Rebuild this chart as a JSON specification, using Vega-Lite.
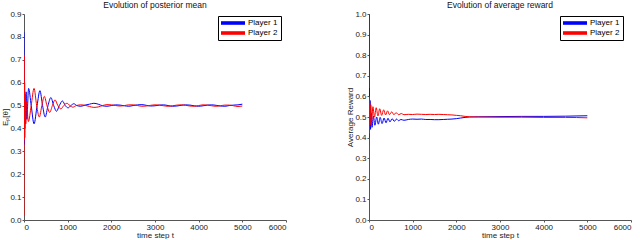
{
  "$schema": "https://vega.github.io/schema/vega-lite/v6.json",
  "padding": {"left": 1, "top": 0, "right": 0, "bottom": 0},
  "spacing": 59,
  "config": {
    "view": {"stroke": null},
    "font": "Liberation Sans",
    "title": {"fontSize": 8.5, "fontWeight": "normal", "color": "#111", "offset": 1, "anchor": "middle"},
    "axis": {"labelFontSize": 8, "titleFontSize": 8, "titleFontWeight": "normal", "tickSize": 2, "labelColor": "#222", "titleColor": "#222", "domainColor": "#555", "tickColor": "#555", "grid": false, "labelPadding": 1, "titlePadding": 0},
    "legend": {"strokeColor": "#000", "fillColor": "#fff", "padding": 3, "labelFontSize": 8, "labelColor": "#000", "rowPadding": 2, "symbolType": "M-1,-0.45H5V0.45H-1Z", "symbolSize": 64, "symbolStrokeWidth": 0, "labelOffset": 19}
  },
  "datasets": {
    "mean": [
      {"player": "Player 1", "t": 0, "v": 0.82}, {"player": "Player 1", "t": 4, "v": 0.33}, {"player": "Player 1", "t": 10, "v": 0.6}, {"player": "Player 1", "t": 16, "v": 0.36}, {"player": "Player 1", "t": 24, "v": 0.55}, {"player": "Player 1", "t": 34, "v": 0.42}, {"player": "Player 1", "t": 48, "v": 0.56}, {"player": "Player 1", "t": 65, "v": 0.44}, {"player": "Player 1", "t": 105, "v": 0.575}, {"player": "Player 1", "t": 165, "v": 0.5}, {"player": "Player 1", "t": 230, "v": 0.42}, {"player": "Player 1", "t": 300, "v": 0.5}, {"player": "Player 1", "t": 365, "v": 0.565}, {"player": "Player 1", "t": 425, "v": 0.5}, {"player": "Player 1", "t": 485, "v": 0.45}, {"player": "Player 1", "t": 550, "v": 0.5}, {"player": "Player 1", "t": 615, "v": 0.535}, {"player": "Player 1", "t": 680, "v": 0.5}, {"player": "Player 1", "t": 745, "v": 0.475}, {"player": "Player 1", "t": 810, "v": 0.5}, {"player": "Player 1", "t": 880, "v": 0.52}, {"player": "Player 1", "t": 945, "v": 0.5}, {"player": "Player 1", "t": 1010, "v": 0.49}, {"player": "Player 1", "t": 1075, "v": 0.5}, {"player": "Player 1", "t": 1140, "v": 0.508}, {"player": "Player 1", "t": 1210, "v": 0.5},
      {"player": "Player 1", "t": 1300, "v": 0.497}, {"player": "Player 1", "t": 1400, "v": 0.502}, {"player": "Player 1", "t": 1500, "v": 0.506}, {"player": "Player 1", "t": 1600, "v": 0.51}, {"player": "Player 1", "t": 1700, "v": 0.506}, {"player": "Player 1", "t": 1800, "v": 0.499}, {"player": "Player 1", "t": 1900, "v": 0.497}, {"player": "Player 1", "t": 2000, "v": 0.5}, {"player": "Player 1", "t": 2100, "v": 0.503}, {"player": "Player 1", "t": 2200, "v": 0.502}, {"player": "Player 1", "t": 2300, "v": 0.499}, {"player": "Player 1", "t": 2400, "v": 0.497}, {"player": "Player 1", "t": 2500, "v": 0.5}, {"player": "Player 1", "t": 2600, "v": 0.503}, {"player": "Player 1", "t": 2700, "v": 0.504}, {"player": "Player 1", "t": 2800, "v": 0.501}, {"player": "Player 1", "t": 2900, "v": 0.498}, {"player": "Player 1", "t": 3000, "v": 0.499}, {"player": "Player 1", "t": 3100, "v": 0.502}, {"player": "Player 1", "t": 3200, "v": 0.503}, {"player": "Player 1", "t": 3300, "v": 0.5}, {"player": "Player 1", "t": 3400, "v": 0.497}, {"player": "Player 1", "t": 3500, "v": 0.498}, {"player": "Player 1", "t": 3600, "v": 0.501}, {"player": "Player 1", "t": 3700, "v": 0.503}, {"player": "Player 1", "t": 3800, "v": 0.502}, {"player": "Player 1", "t": 3900, "v": 0.499}, {"player": "Player 1", "t": 4000, "v": 0.497}, {"player": "Player 1", "t": 4100, "v": 0.499}, {"player": "Player 1", "t": 4200, "v": 0.502}, {"player": "Player 1", "t": 4300, "v": 0.503}, {"player": "Player 1", "t": 4400, "v": 0.501}, {"player": "Player 1", "t": 4500, "v": 0.498}, {"player": "Player 1", "t": 4600, "v": 0.497}, {"player": "Player 1", "t": 4700, "v": 0.5}, {"player": "Player 1", "t": 4800, "v": 0.502}, {"player": "Player 1", "t": 4900, "v": 0.503}, {"player": "Player 1", "t": 5000, "v": 0.506},
      {"player": "Player 2", "t": 0, "v": 0.02}, {"player": "Player 2", "t": 3, "v": 0.72}, {"player": "Player 2", "t": 8, "v": 0.35}, {"player": "Player 2", "t": 14, "v": 0.6}, {"player": "Player 2", "t": 22, "v": 0.4}, {"player": "Player 2", "t": 30, "v": 0.55}, {"player": "Player 2", "t": 40, "v": 0.42}, {"player": "Player 2", "t": 55, "v": 0.52}, {"player": "Player 2", "t": 100, "v": 0.43}, {"player": "Player 2", "t": 165, "v": 0.5}, {"player": "Player 2", "t": 230, "v": 0.575}, {"player": "Player 2", "t": 290, "v": 0.5}, {"player": "Player 2", "t": 350, "v": 0.45}, {"player": "Player 2", "t": 410, "v": 0.5}, {"player": "Player 2", "t": 465, "v": 0.54}, {"player": "Player 2", "t": 525, "v": 0.5}, {"player": "Player 2", "t": 590, "v": 0.47}, {"player": "Player 2", "t": 650, "v": 0.5}, {"player": "Player 2", "t": 710, "v": 0.525}, {"player": "Player 2", "t": 775, "v": 0.5}, {"player": "Player 2", "t": 845, "v": 0.485}, {"player": "Player 2", "t": 910, "v": 0.5}, {"player": "Player 2", "t": 985, "v": 0.51}, {"player": "Player 2", "t": 1050, "v": 0.5}, {"player": "Player 2", "t": 1120, "v": 0.493}, {"player": "Player 2", "t": 1200, "v": 0.5},
      {"player": "Player 2", "t": 1300, "v": 0.503}, {"player": "Player 2", "t": 1400, "v": 0.501}, {"player": "Player 2", "t": 1500, "v": 0.496}, {"player": "Player 2", "t": 1600, "v": 0.492}, {"player": "Player 2", "t": 1700, "v": 0.494}, {"player": "Player 2", "t": 1800, "v": 0.5}, {"player": "Player 2", "t": 1900, "v": 0.504}, {"player": "Player 2", "t": 2000, "v": 0.503}, {"player": "Player 2", "t": 2100, "v": 0.5}, {"player": "Player 2", "t": 2200, "v": 0.498}, {"player": "Player 2", "t": 2300, "v": 0.5}, {"player": "Player 2", "t": 2400, "v": 0.503}, {"player": "Player 2", "t": 2500, "v": 0.503}, {"player": "Player 2", "t": 2600, "v": 0.5}, {"player": "Player 2", "t": 2700, "v": 0.497}, {"player": "Player 2", "t": 2800, "v": 0.498}, {"player": "Player 2", "t": 2900, "v": 0.501}, {"player": "Player 2", "t": 3000, "v": 0.503}, {"player": "Player 2", "t": 3100, "v": 0.502}, {"player": "Player 2", "t": 3200, "v": 0.499}, {"player": "Player 2", "t": 3300, "v": 0.497}, {"player": "Player 2", "t": 3400, "v": 0.499}, {"player": "Player 2", "t": 3500, "v": 0.502}, {"player": "Player 2", "t": 3600, "v": 0.503}, {"player": "Player 2", "t": 3700, "v": 0.501}, {"player": "Player 2", "t": 3800, "v": 0.498}, {"player": "Player 2", "t": 3900, "v": 0.497}, {"player": "Player 2", "t": 4000, "v": 0.5}, {"player": "Player 2", "t": 4100, "v": 0.503}, {"player": "Player 2", "t": 4200, "v": 0.502}, {"player": "Player 2", "t": 4300, "v": 0.499}, {"player": "Player 2", "t": 4400, "v": 0.497}, {"player": "Player 2", "t": 4500, "v": 0.499}, {"player": "Player 2", "t": 4600, "v": 0.502}, {"player": "Player 2", "t": 4700, "v": 0.502}, {"player": "Player 2", "t": 4800, "v": 0.499}, {"player": "Player 2", "t": 4900, "v": 0.496}, {"player": "Player 2", "t": 5000, "v": 0.498}
    ],
    "reward": [
      {"player": "Player 1", "t": 0, "v": 1.0}, {"player": "Player 1", "t": 3, "v": 0.4}, {"player": "Player 1", "t": 8, "v": 0.64}, {"player": "Player 1", "t": 15, "v": 0.45}, {"player": "Player 1", "t": 25, "v": 0.58}, {"player": "Player 1", "t": 35, "v": 0.44}, {"player": "Player 1", "t": 50, "v": 0.52}, {"player": "Player 1", "t": 70, "v": 0.45}, {"player": "Player 1", "t": 100, "v": 0.505}, {"player": "Player 1", "t": 135, "v": 0.46}, {"player": "Player 1", "t": 175, "v": 0.5}, {"player": "Player 1", "t": 215, "v": 0.465}, {"player": "Player 1", "t": 255, "v": 0.498}, {"player": "Player 1", "t": 300, "v": 0.468}, {"player": "Player 1", "t": 345, "v": 0.495}, {"player": "Player 1", "t": 390, "v": 0.472}, {"player": "Player 1", "t": 435, "v": 0.494}, {"player": "Player 1", "t": 480, "v": 0.476}, {"player": "Player 1", "t": 530, "v": 0.492}, {"player": "Player 1", "t": 580, "v": 0.479}, {"player": "Player 1", "t": 630, "v": 0.49}, {"player": "Player 1", "t": 680, "v": 0.482}, {"player": "Player 1", "t": 730, "v": 0.488}, {"player": "Player 1", "t": 800, "v": 0.484}, {"player": "Player 1", "t": 900, "v": 0.488}, {"player": "Player 1", "t": 1000, "v": 0.49}, {"player": "Player 1", "t": 1100, "v": 0.489}, {"player": "Player 1", "t": 1200, "v": 0.49}, {"player": "Player 1", "t": 1300, "v": 0.488}, {"player": "Player 1", "t": 1400, "v": 0.488}, {"player": "Player 1", "t": 1500, "v": 0.487}, {"player": "Player 1", "t": 1600, "v": 0.487}, {"player": "Player 1", "t": 1700, "v": 0.488}, {"player": "Player 1", "t": 1800, "v": 0.489}, {"player": "Player 1", "t": 1900, "v": 0.49}, {"player": "Player 1", "t": 2000, "v": 0.492}, {"player": "Player 1", "t": 2100, "v": 0.495}, {"player": "Player 1", "t": 2200, "v": 0.498}, {"player": "Player 1", "t": 2300, "v": 0.5}, {"player": "Player 1", "t": 2500, "v": 0.501}, {"player": "Player 1", "t": 3000, "v": 0.502}, {"player": "Player 1", "t": 3500, "v": 0.503}, {"player": "Player 1", "t": 4000, "v": 0.503}, {"player": "Player 1", "t": 4500, "v": 0.504}, {"player": "Player 1", "t": 5000, "v": 0.506},
      {"player": "Player 2", "t": 0, "v": 0.36}, {"player": "Player 2", "t": 3, "v": 0.6}, {"player": "Player 2", "t": 8, "v": 0.42}, {"player": "Player 2", "t": 15, "v": 0.57}, {"player": "Player 2", "t": 25, "v": 0.46}, {"player": "Player 2", "t": 40, "v": 0.56}, {"player": "Player 2", "t": 60, "v": 0.48}, {"player": "Player 2", "t": 90, "v": 0.55}, {"player": "Player 2", "t": 125, "v": 0.5}, {"player": "Player 2", "t": 165, "v": 0.545}, {"player": "Player 2", "t": 205, "v": 0.505}, {"player": "Player 2", "t": 245, "v": 0.54}, {"player": "Player 2", "t": 290, "v": 0.508}, {"player": "Player 2", "t": 335, "v": 0.535}, {"player": "Player 2", "t": 380, "v": 0.51}, {"player": "Player 2", "t": 425, "v": 0.53}, {"player": "Player 2", "t": 470, "v": 0.511}, {"player": "Player 2", "t": 520, "v": 0.525}, {"player": "Player 2", "t": 570, "v": 0.511}, {"player": "Player 2", "t": 620, "v": 0.521}, {"player": "Player 2", "t": 680, "v": 0.511}, {"player": "Player 2", "t": 740, "v": 0.517}, {"player": "Player 2", "t": 800, "v": 0.511}, {"player": "Player 2", "t": 900, "v": 0.513}, {"player": "Player 2", "t": 1000, "v": 0.512}, {"player": "Player 2", "t": 1100, "v": 0.514}, {"player": "Player 2", "t": 1200, "v": 0.513}, {"player": "Player 2", "t": 1300, "v": 0.512}, {"player": "Player 2", "t": 1400, "v": 0.513}, {"player": "Player 2", "t": 1500, "v": 0.512}, {"player": "Player 2", "t": 1600, "v": 0.513}, {"player": "Player 2", "t": 1700, "v": 0.512}, {"player": "Player 2", "t": 1800, "v": 0.511}, {"player": "Player 2", "t": 1900, "v": 0.51}, {"player": "Player 2", "t": 2000, "v": 0.508}, {"player": "Player 2", "t": 2100, "v": 0.506}, {"player": "Player 2", "t": 2200, "v": 0.503}, {"player": "Player 2", "t": 2300, "v": 0.501}, {"player": "Player 2", "t": 2500, "v": 0.5}, {"player": "Player 2", "t": 3000, "v": 0.499}, {"player": "Player 2", "t": 3500, "v": 0.499}, {"player": "Player 2", "t": 4000, "v": 0.498}, {"player": "Player 2", "t": 4500, "v": 0.498}, {"player": "Player 2", "t": 5000, "v": 0.496}
    ]
  },
  "hconcat": [
    {
      "width": 262, "height": 206,
      "title": "Evolution of posterior mean",
      "data": {"name": "mean"},
      "mark": {"type": "line", "strokeWidth": 1, "interpolate": "monotone", "clip": true},
      "encoding": {
        "x": {"field": "t", "type": "quantitative", "scale": {"domain": [0, 6000], "nice": false}, "axis": {"title": "time step t", "values": [0, 1000, 2000, 3000, 4000, 5000, 6000], "format": "d"}},
        "y": {"field": "v", "type": "quantitative", "scale": {"domain": [0, 0.9], "nice": false}, "axis": {"title": "Eₚ[θ]", "values": [0, 0.1, 0.2, 0.3, 0.4, 0.5, 0.6, 0.7, 0.8, 0.9]}},
        "color": {"field": "player", "type": "nominal", "scale": {"domain": ["Player 1", "Player 2"], "range": ["#0000ff", "#ff0000"]}, "legend": {"title": null, "orient": "none", "legendX": 194, "legendY": 2, "encode": {"symbols": {"update": {"fill": {"signal": "datum.value === 'Player 1' ? '#0000ff' : '#ff0000'"}, "fillOpacity": {"value": 1}, "stroke": {"value": "transparent"}, "strokeWidth": {"value": 0}}}}}}
      }
    },
    {
      "width": 262, "height": 206,
      "title": "Evolution of average reward",
      "data": {"name": "reward"},
      "mark": {"type": "line", "strokeWidth": 1, "interpolate": "monotone", "clip": true},
      "encoding": {
        "x": {"field": "t", "type": "quantitative", "scale": {"domain": [0, 6000], "nice": false}, "axis": {"title": "time step t", "values": [0, 1000, 2000, 3000, 4000, 5000, 6000], "format": "d"}},
        "y": {"field": "v", "type": "quantitative", "scale": {"domain": [0, 1], "nice": false}, "axis": {"title": "Average Reward", "values": [0, 0.1, 0.2, 0.3, 0.4, 0.5, 0.6, 0.7, 0.8, 0.9, 1]}},
        "color": {"field": "player", "type": "nominal", "scale": {"domain": ["Player 1", "Player 2"], "range": ["#0000ff", "#ff0000"]}, "legend": {"title": null, "orient": "none", "legendX": 191, "legendY": 2, "encode": {"symbols": {"update": {"fill": {"signal": "datum.value === 'Player 1' ? '#0000ff' : '#ff0000'"}, "fillOpacity": {"value": 1}, "stroke": {"value": "transparent"}, "strokeWidth": {"value": 0}}}}}}
      }
    }
  ],
  "resolve": {"scale": {"color": "independent"}, "legend": {"color": "independent"}}
}
